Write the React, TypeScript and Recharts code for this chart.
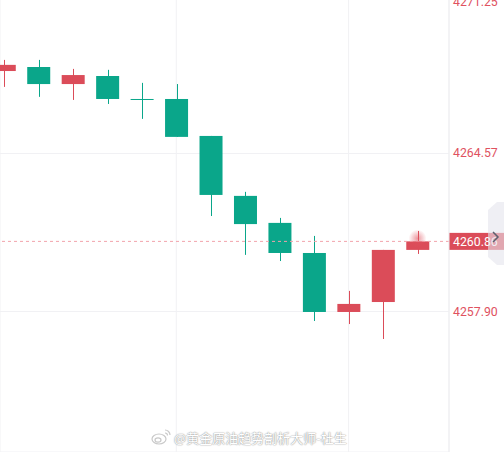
import React from 'react';
import {
  ComposedChart, Bar, XAxis, YAxis, CartesianGrid, ReferenceLine, ReferenceDot,
} from 'recharts';

document.body.style.margin = '0';

// candle prices (oldest to newest)
const OPEN = [4268.05, 4268.22, 4267.5, 4267.84, 4266.87, 4266.87, 4265.31, 4262.78, 4261.64, 4260.37, 4257.88, 4258.3, 4260.5];
const CLOSE = [4268.31, 4267.5, 4267.88, 4266.87, 4266.87, 4265.27, 4262.82, 4261.59, 4260.37, 4257.88, 4258.22, 4260.5, 4260.86];
const HIGH = [4268.52, 4268.52, 4268.14, 4268.1, 4267.55, 4267.5, 4265.31, 4262.95, 4261.85, 4261.09, 4258.77, 4260.5, 4261.3];
const LOW = [4267.38, 4266.96, 4266.83, 4266.66, 4266.03, 4265.27, 4261.93, 4260.29, 4260.03, 4257.5, 4257.37, 4256.74, 4260.33];

const Y_TICKS = [4257.9, 4264.57, 4271.25];
const GRID_X = [0, 5, 10];
const LAST_PRICE = 4260.86;

const UP = '#db4c59';
const DOWN = '#0aa68a';

const data = OPEN.map((o, i) => ({
  i,
  open: o,
  close: CLOSE[i],
  high: HIGH[i],
  low: LOW[i],
}));

const Candle = (props: any) => {
  const { x, y, width, height, payload } = props;
  const { open, close, high, low } = payload;
  const ppu = height / (high - low);
  const top = y + (high - Math.max(open, close)) * ppu;
  const bodyH = Math.max(1, Math.abs(open - close) * ppu);
  const cx = Math.round(x + width / 2) + 0.5;
  const color = close > open ? UP : DOWN;
  return (
    <g>
      <line x1={cx} x2={cx} y1={y} y2={y + height} stroke={color} strokeWidth={1} />
      <rect x={x} y={top} width={width} height={bodyH} fill={color} />
    </g>
  );
};

const PriceTick = (props: any) => {
  const { x, y, payload } = props;
  // top label is pushed down a little so it stays partly on screen
  const ty = Math.max(y, 12);
  return (
    <text x={x} y={ty} dy={4} textAnchor="start" fontSize={12.3} fill="#e0525f" fontFamily="Roboto">
      {payload.value.toFixed(2)}
    </text>
  );
};

const PriceLabel = (props: any) => {
  const { viewBox } = props;
  const bx = viewBox.x + viewBox.width;
  const by = viewBox.y;
  return (
    <g>
      <rect x={bx} y={by - 8.5} width={55} height={17} fill={UP} />
      <text x={bx + 4} y={by + 4.5} fontSize={12.3} fill="#fff" fontFamily="Roboto">{LAST_PRICE.toFixed(2)}</text>
    </g>
  );
};

const Glow = (props: any) => {
  const { cx, cy } = props;
  return (
    <g>
      <defs>
        <radialGradient id="glow">
          <stop offset="0%" stopColor="#e0525f" stopOpacity={0.6} />
          <stop offset="100%" stopColor="#e0525f" stopOpacity={0} />
        </radialGradient>
      </defs>
      <circle cx={cx} cy={cy} r={9} fill="url(#glow)" />
    </g>
  );
};

export default function App() {
  return (
    <div style={{ position: 'relative', width: 504, height: 452, overflow: 'hidden', background: '#fff', fontFamily: 'Roboto' }}>
      <div style={{ position: 'absolute', top: -10, left: 0 }}>
        <ComposedChart width={504} height={462} data={data} margin={{ top: 0, right: 0, bottom: 0, left: 0 }}>
          <CartesianGrid stroke="#f1f1f4" />
          <XAxis type="number" dataKey="i" domain={[-0.116, 12.914]} ticks={GRID_X} hide allowDataOverflow />
          <YAxis
            orientation="right"
            width={55}
            domain={[4251.97, 4271.47]}
            ticks={Y_TICKS}
            allowDataOverflow
            axisLine={{ stroke: '#eeeef1' }}
            tickLine={false}
            tickSize={0}
            tickMargin={4}
            tick={<PriceTick />}
          />
          <ReferenceLine
            y={LAST_PRICE}
            stroke="#f2a3ab"
            strokeDasharray="3 3"
            label={<PriceLabel />}
          />
          <Bar
            dataKey={(d: any) => [d.low, d.high]}
            barSize={23}
            shape={<Candle />}
            isAnimationActive={false}
          />
          <ReferenceDot x={12} y={LAST_PRICE + 0.12} r={9} shape={<Glow />} />
        </ComposedChart>
      </div>

      <svg width={504} height={452} style={{ position: 'absolute', top: 0, left: 0, pointerEvents: 'none' }}>
        <polygon points="504,202 497,202 488,210 488,257 497,265 504,265" fill="#e4e4ec" fillOpacity={0.6} />
        <polyline points="493,232 498,237 493,242" fill="none" stroke="#5c5f6e" strokeWidth={1.5} />
        <g fill="none" stroke="#c9c9c9" strokeWidth={1.2}>
          <ellipse cx={159} cy={439} rx={7} ry={5} />
          <ellipse cx={158} cy={440} rx={3} ry={2.2} />
          <path d="M165 430 a5 5 0 0 1 5 5" />
          <path d="M165 433 a2.5 2.5 0 0 1 2.5 2.5" />
        </g>
      </svg>

      <div
        style={{
          position: 'absolute',
          left: 174,
          top: 428,
          fontSize: 13,
          color: '#fff',
          fontFamily: '"Noto Sans CJK SC", sans-serif',
          textShadow: '0 0 1.5px #8a8a8a, 0 0 1px #aaa',
          whiteSpace: 'nowrap',
        }}
      >
        @黄金原油趋势剖析大师-杜生
      </div>
    </div>
  );
}
